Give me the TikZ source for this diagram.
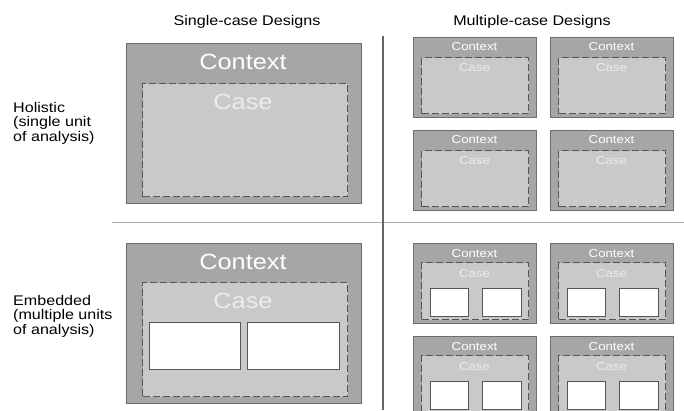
\documentclass[tikz,border=0pt]{standalone}
\usepackage{fontspec}
\setmainfont{Liberation Sans}[FakeStretch=1.15]
\definecolor{ctxfill}{HTML}{A6A6A6}
\definecolor{ctxline}{HTML}{6E6E6E}
\definecolor{casefill}{HTML}{C9C9C9}
\definecolor{caseline}{HTML}{555555}
\definecolor{casetext}{HTML}{ECECEC}
\tikzset{
  ctxbox/.style={draw=ctxline, fill=ctxfill, line width=1pt, inner sep=0pt, anchor=north west},
  casebox/.style={draw=caseline, fill=casefill, line width=1.1pt, dash pattern=on 7pt off 3pt, inner sep=0pt, anchor=north west},
  unitbox/.style={draw=caseline, fill=white, line width=1pt, inner sep=0pt, anchor=north west},
  bigctx/.style={text=white, font=\fontsize{22}{24}\selectfont, inner sep=0pt},
  bigcase/.style={text=casetext, font=\fontsize{22}{24}\selectfont, inner sep=0pt},
  smallctx/.style={text=white, font=\fontsize{11.5}{13}\selectfont, inner sep=0pt},
  smallcase/.style={text=casetext, font=\fontsize{11.5}{13}\selectfont, inner sep=0pt},
  heading/.style={font=\fontsize{14}{15}\selectfont, inner sep=0pt},
  rowlabel/.style={font=\fontsize{14}{14.5}\selectfont, align=left, anchor=west, inner sep=0pt},
}
\begin{document}
\begin{tikzpicture}[x=1pt,y=-1pt]
\useasboundingbox (0,0) rectangle (684,410);
\clip (0,0) rectangle (684,410);

% column headings and row labels
\node[heading] (hsingle) at (247,22) {Single-case Designs};
\node[heading] (hmulti) at (532,22) {Multiple-case Designs};
\node[rowlabel] (lholistic) at (13,123) {Holistic\\(single unit\\of analysis)};
\node[rowlabel] (lembedded) at (13,316) {Embedded\\(multiple units\\of analysis)};

% dividers
\coordinate (hl) at (112,222.5);
\coordinate (hr) at (684,222.5);
\coordinate (vt) at (383,36);
\coordinate (vb) at (383,410);
\draw[line width=1.5pt, color=black!33] (hl) -- (hr);
\draw[line width=1.2pt, color=black!60] (vt) -- (vb);

% single-case, holistic
\node[ctxbox, minimum width=235pt, minimum height=160pt] (sh) at (126,43) {};
\node[casebox, minimum width=205pt, minimum height=113pt] (shc) at (142,83) {};
\node[bigctx] (shct) at (243,62) {Context};
\node[bigcase] (shcs) at (243,102) {Case};

% single-case, embedded
\node[ctxbox, minimum width=235pt, minimum height=160pt] (se) at (126,243) {};
\node[casebox, minimum width=205pt, minimum height=114pt] (sec) at (142,282) {};
\node[bigctx] (sect) at (243,262) {Context};
\node[bigcase] (secs) at (243,301) {Case};
\node[unitbox, minimum width=91pt, minimum height=47pt] (seu1) at (149,322) {};
\node[unitbox, minimum width=92pt, minimum height=47pt] (seu2) at (247,322) {};

% multiple-case, holistic
\foreach \bx/\by [count=\i] in {413/37, 550/37, 413/130, 550/130}{
  \node[ctxbox, minimum width=123pt, minimum height=80pt] (mh\i) at (\bx,\by) {};
  \node[casebox, minimum width=107pt, minimum height=56pt] (mhc\i) at (\bx+8,\by+20) {};
  \node[smallctx] (mhct\i) at (\bx+61.5,\by+10) {Context};
  \node[smallcase] (mhcs\i) at (\bx+61.5,\by+31) {Case};
}

% multiple-case, embedded
\foreach \bx/\by [count=\i] in {413/243, 550/243, 413/336, 550/336}{
  \node[ctxbox, minimum width=123pt, minimum height=80pt] (me\i) at (\bx,\by) {};
  \node[casebox, minimum width=107pt, minimum height=57pt] (mec\i) at (\bx+8,\by+19) {};
  \node[smallctx] (mect\i) at (\bx+61.5,\by+11) {Context};
  \node[smallcase] (mecs\i) at (\bx+61.5,\by+31) {Case};
  \node[unitbox, minimum width=38pt, minimum height=28pt] (meu\i a) at (\bx+17,\by+45) {};
  \node[unitbox, minimum width=39pt, minimum height=28pt] (meu\i b) at (\bx+69,\by+45) {};
}
\end{tikzpicture}
\end{document}
